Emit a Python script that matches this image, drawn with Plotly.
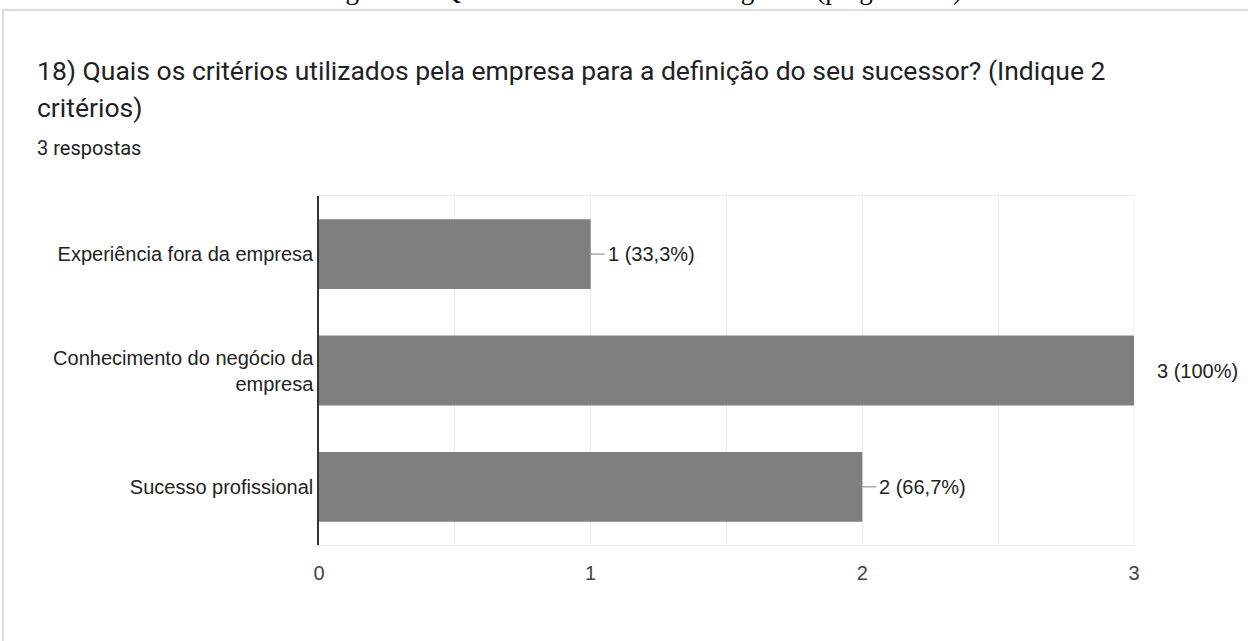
import plotly.graph_objects as go

# Survey answers (question 18)
categories = [
    "Experiência fora da empresa",
    "Conhecimento do negócio da<br>empresa",
    "Sucesso profissional",
]
counts = [1, 3, 2]
total_responses = 3
value_labels = ["1 (33,3%)", "3 (100%)", "2 (66,7%)"]
tick_values = [0, 1, 2, 3]
tick_text = ["0", "1", "2", "3"]

caption = "Figura 40: Questionário direcionado à gestão (pergunta 18)"
title_line1 = "18) Quais os critérios utilizados pela empresa para a definição do seu sucessor? (Indique 2"
title_line2 = "critérios)"
subtitle = f"{total_responses} respostas"

W, H = 1248, 641
ML, MR, MT, MB = 319, 114, 196, 96
PW, PH = W - ML - MR, H - MT - MB


def px_x(p):
    return (p - ML) / PW


def px_y(p):
    return (H - MB - p) / PH


BAR = "#7f7f7f"
GRID = "#ebebeb"
LABEL_FONT = "Liberation Sans, Arial, sans-serif"

fig = go.Figure(
    go.Bar(
        x=counts,
        y=categories,
        orientation="h",
        marker=dict(color=BAR, line=dict(width=0)),
        width=0.6,
        hoverinfo="skip",
    )
)

shapes = [
    # card outline
    dict(type="rect", xref="paper", yref="paper",
         x0=px_x(3), x1=px_x(1300), y0=px_y(700), y1=px_y(10),
         line=dict(color="#dadce0", width=2), fillcolor="rgba(0,0,0,0)", layer="below"),
    # right edge of plot area
    dict(type="line", xref="x", yref="paper", x0=3, x1=3, y0=0, y1=1,
         line=dict(color=GRID, width=1), layer="below"),
]

annotations = [
    dict(text=caption, xref="paper", yref="paper", x=px_x(642), y=px_y(6.5),
         xanchor="center", yanchor="bottom", showarrow=False,
         font=dict(family="Liberation Serif, Times New Roman, serif", size=27, color="#000")),
    dict(text=title_line1, xref="paper", yref="paper", x=px_x(35), y=px_y(70),
         xanchor="left", yanchor="middle", showarrow=False,
         font=dict(family="Roboto, sans-serif", size=26.5, color="#202124")),
    dict(text=title_line2, xref="paper", yref="paper", x=px_x(35), y=px_y(107),
         xanchor="left", yanchor="middle", showarrow=False,
         font=dict(family="Roboto, sans-serif", size=26.5, color="#202124")),
    dict(text=subtitle, xref="paper", yref="paper", x=px_x(35), y=px_y(148),
         xanchor="left", yanchor="middle", showarrow=False,
         font=dict(family="Roboto, sans-serif", size=20, color="#202124")),
]

# value labels with a short leader line from the bar end
max_count = max(counts)
for cat, val, lab in zip(categories, counts, value_labels):
    at_edge = val == max_count
    lead = 7 if at_edge else 14
    gap = 21 if at_edge else 15
    shapes.append(dict(type="line", xref="x", yref="y", xsizemode="pixel", xanchor=val,
                       x0=0, x1=lead, y0=cat, y1=cat,
                       line=dict(color="#c8c8c8" if at_edge else "#999999", width=1.2)))
    annotations.append(dict(text=lab, xref="x", yref="y", x=val, y=cat,
                            xanchor="left", yanchor="middle", xshift=gap, showarrow=False,
                            font=dict(family=LABEL_FONT, size=20, color="#222")))

fig.update_layout(
    width=W, height=H,
    margin=dict(l=ML, r=MR, t=MT, b=MB),
    paper_bgcolor="white", plot_bgcolor="white",
    showlegend=False,
    bargap=0.4,
    shapes=shapes,
    annotations=annotations,
    xaxis=dict(
        range=[0, 3], tickvals=tick_values, ticktext=tick_text,
        showgrid=True, gridcolor=GRID, gridwidth=1,
        minor=dict(dtick=0.5, tick0=0, showgrid=True, gridcolor=GRID, gridwidth=1),
        zeroline=False,
        showline=True, linecolor=GRID, linewidth=1, mirror=True,
        ticks="outside", ticklen=10, tickcolor="rgba(0,0,0,0)",
        tickfont=dict(family=LABEL_FONT, size=20, color="#444"),
        fixedrange=True,
    ),
    yaxis=dict(
        categoryorder="array", categoryarray=categories, autorange="reversed",
        showgrid=False, zeroline=False,
        showline=True, linecolor="#333", linewidth=1.5,
        ticks="", ticklabelstandoff=0,
        tickfont=dict(family=LABEL_FONT, size=20, color="#222"),
        fixedrange=True,
    ),
)

fig.write_html("out.html", config=dict(displayModeBar=False))
